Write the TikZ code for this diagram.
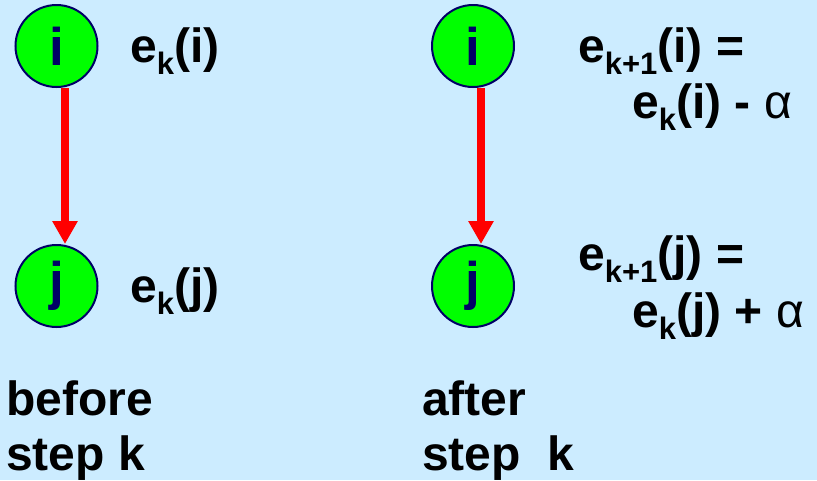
\documentclass[tikz,border=0pt]{standalone}
\usepackage{fontspec}
\setmainfont{Liberation Sans}
\usetikzlibrary{arrows.meta}
\definecolor{bgblue}{RGB}{204,236,255}
\definecolor{nodegreen}{RGB}{0,255,0}
\definecolor{rimnavy}{RGB}{0,0,102}
\definecolor{edgered}{RGB}{255,0,0}
% subscript set in smaller type, lowered below the baseline
\newcommand\lowsub[1]{\raisebox{-12pt}{\fontsize{31}{31}\selectfont #1}}
\begin{document}
\begin{tikzpicture}[x=1pt,y=-1pt,
  vertex/.style={circle,draw=rimnavy,line width=2pt,fill=nodegreen,
    minimum size=82pt,inner sep=0pt,text=rimnavy,
    font=\fontsize{53}{53}\selectfont\bfseries},
  formula/.style={anchor=base west,inner sep=0pt,
    font=\fontsize{48}{48}\selectfont\bfseries},
  edgearrow/.style={draw=edgered,line width=8pt,
    -{Triangle[width=24pt,length=23pt]},edgered}]
\fill[bgblue] (0,0) rectangle (817,480);
\useasboundingbox (0,0) rectangle (817,480);

% before step k
\node[vertex] (li) at (56.5,46) {i};
\node[vertex] (lj) at (56.5,286) {j};
\draw[edgearrow] ([xshift=8.5pt]li.south) -- ([xshift=8.5pt]lj.north);
\node[formula] (lei) at (130,62) {e\lowsub{k}(i)};
\node[formula] (lej) at (130,302) {e\lowsub{k}(j)};
\node[formula] (before) at (6,415) {before};
\node[formula] (stepl) at (6,470) {step k};

% after step k
\node[vertex] (ri) at (473,46) {i};
\node[vertex] (rj) at (473,286) {j};
\draw[edgearrow] ([xshift=8pt]ri.south) -- ([xshift=8pt]rj.north);
\node[formula] (rei) at (578,62) {e\lowsub{k+1}(i) =};
\node[formula] (rei2) at (632,118) {e\lowsub{k}(i) - {\mdseries α}};
\node[formula] (rej) at (578,270) {e\lowsub{k+1}(j) =};
\node[formula] (rej2) at (632,327) {e\lowsub{k}(j) + {\mdseries α}};
\node[formula] (after) at (422,415) {after};
\node[formula] (stepr) at (422,470) {step\ \ k};
\end{tikzpicture}
\end{document}
